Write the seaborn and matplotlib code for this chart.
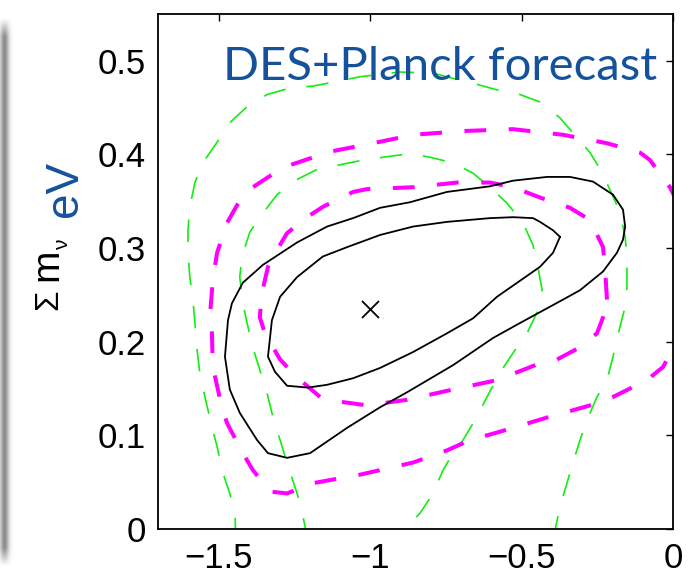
import numpy as np
import matplotlib
matplotlib.use("Agg")
import matplotlib.pyplot as plt
import seaborn as sns

# ---------------- data ----------------
black_inner_x = [-0.373, -0.396, -0.439, -0.462, -0.528, -0.604, -0.746, -0.858, -0.967, -1.076,
                 -1.156, -1.241, -1.297, -1.324, -1.337, -1.314, -1.274, -1.205, -1.142, -1.056,
                 -0.967, -0.858, -0.746, -0.660, -0.581, -0.439, -0.396]
black_inner_y = [0.312, 0.319, 0.328, 0.332, 0.333, 0.332, 0.328, 0.323, 0.314, 0.301,
                 0.291, 0.269, 0.248, 0.223, 0.184, 0.168, 0.153, 0.151, 0.154, 0.161,
                 0.172, 0.189, 0.209, 0.225, 0.248, 0.280, 0.295]

black_outer_x = [-0.198, -0.264, -0.340, -0.416, -0.528, -0.604, -0.746, -0.868, -0.967, -1.056,
                 -1.142, -1.241, -1.354, -1.420, -1.456, -1.469, -1.479, -1.463, -1.430, -1.373,
                 -1.337, -1.274, -1.198, -1.076, -0.967, -0.878, -0.726, -0.594, -0.505, -0.363,
                 -0.307, -0.231, -0.185, -0.165, -0.158, -0.165]
black_outer_y = [0.357, 0.371, 0.376, 0.376, 0.372, 0.366, 0.360, 0.349, 0.343, 0.332,
                 0.323, 0.306, 0.282, 0.263, 0.241, 0.223, 0.184, 0.149, 0.124, 0.095,
                 0.081, 0.076, 0.081, 0.108, 0.130, 0.146, 0.175, 0.204, 0.220, 0.245,
                 0.255, 0.275, 0.295, 0.309, 0.323, 0.341]

magenta_inner_x = [-0.218, -0.224, -0.231, -0.274, -0.340, -0.439, -0.528, -0.604, -0.713, -0.858,
                   -1.010, -1.056, -1.156, -1.208, -1.274, -1.307, -1.337, -1.357, -1.364, -1.347,
                   -1.297, -1.241, -1.165, -1.099, -1.010, -0.878, -0.726, -0.581, -0.439, -0.383,
                   -0.307, -0.251, -0.231]
magenta_inner_y = [0.245, 0.277, 0.301, 0.330, 0.343, 0.354, 0.365, 0.370, 0.370, 0.365,
                   0.363, 0.360, 0.344, 0.333, 0.316, 0.298, 0.280, 0.252, 0.226, 0.209,
                   0.181, 0.162, 0.141, 0.136, 0.132, 0.138, 0.149, 0.159, 0.177, 0.181,
                   0.194, 0.209, 0.226]

magenta_outer_x = [0.040, 0.020, -0.010, -0.076, -0.109, -0.218, -0.363, -0.528, -0.693, -0.858,
                   -0.990, -1.132, -1.288, -1.387, -1.430, -1.472, -1.505, -1.519, -1.529, -1.522,
                   -1.519, -1.489, -1.472, -1.420, -1.387, -1.330, -1.274, -1.188, -1.033, -0.858,
                   -0.746, -0.670, -0.581, -0.416, -0.274, -0.198, -0.086, -0.033, -0.003, 0.030,
                   0.045]
magenta_outer_y = [0.300, 0.345, 0.365, 0.394, 0.402, 0.412, 0.421, 0.427, 0.425, 0.421,
                   0.412, 0.403, 0.386, 0.365, 0.351, 0.327, 0.295, 0.266, 0.226, 0.209,
                   0.173, 0.130, 0.113, 0.081, 0.063, 0.040, 0.038, 0.049, 0.058, 0.071,
                   0.084, 0.095, 0.103, 0.119, 0.132, 0.141, 0.159, 0.173, 0.191, 0.240,
                   0.300]

green_outer_x = [-1.443, -1.446, -1.463, -1.486, -1.505, -1.522, -1.545, -1.562, -1.571, -1.578,
                 -1.585, -1.595, -1.601, -1.601, -1.595, -1.578, -1.552, -1.505, -1.463, -1.406,
                 -1.340, -1.264, -1.189, -1.109, -1.033, -0.957, -0.901, -0.792, -0.736, -0.660,
                 -0.581, -0.505, -0.439, -0.373, -0.330, -0.274, -0.234, -0.198, -0.175, -0.158,
                 -0.152, -0.152, -0.158, -0.175, -0.198, -0.218, -0.251, -0.284, -0.307, -0.330,
                 -0.350, -0.373, -0.396]
green_outer_y = [-0.012, 0.017, 0.038, 0.060, 0.088, 0.109, 0.141, 0.167, 0.191, 0.220,
                 0.245, 0.269, 0.295, 0.319, 0.344, 0.370, 0.391, 0.413, 0.434, 0.451,
                 0.464, 0.471, 0.473, 0.478, 0.483, 0.486, 0.488, 0.487, 0.482, 0.476,
                 0.469, 0.464, 0.456, 0.439, 0.423, 0.402, 0.381, 0.355, 0.338, 0.312,
                 0.291, 0.259, 0.237, 0.216, 0.184, 0.159, 0.141, 0.116, 0.095, 0.071,
                 0.049, 0.024, -0.012]

green_inner_x = [-1.205, -1.231, -1.248, -1.274, -1.297, -1.321, -1.340, -1.364, -1.387, -1.406,
                 -1.420, -1.430, -1.423, -1.397, -1.364, -1.307, -1.255, -1.175, -1.099, -1.023,
                 -0.957, -0.868, -0.802, -0.726, -0.660, -0.594, -0.548, -0.495, -0.462, -0.446,
                 -0.432, -0.449, -0.482, -0.528, -0.571, -0.614, -0.647, -0.693, -0.726, -0.759,
                 -0.792, -0.835, -0.918]
green_inner_y = [-0.012, 0.028, 0.045, 0.071, 0.095, 0.120, 0.145, 0.170, 0.194, 0.220,
                 0.241, 0.269, 0.291, 0.317, 0.333, 0.357, 0.371, 0.384, 0.389, 0.394,
                 0.397, 0.401, 0.397, 0.391, 0.380, 0.362, 0.348, 0.327, 0.303, 0.280,
                 0.255, 0.231, 0.209, 0.188, 0.167, 0.141, 0.120, 0.095, 0.081, 0.063,
                 0.038, 0.017, -0.012]

best_fit_x = [-1.0]
best_fit_y = [0.235]

x_ticks = [-1.5, -1.0, -0.5, 0.0]
x_tick_labels = ["\u22121.5", "\u22121", "\u22120.5", "0"]
y_ticks = [0.0, 0.1, 0.2, 0.3, 0.4, 0.5]
y_tick_labels = ["0", "0.1", "0.2", "0.3", "0.4", "0.5"]

title_text = "DES+Planck forecast"
blue = "#15529C"
green = "#11EE11"
magenta = "#FF00FF"

# ---------------- figure ----------------
sns.set_theme(style="white")
plt.rcParams['font.family'] = ['Liberation Sans', 'DejaVu Sans']

W, H = 692, 577
fig = plt.figure(figsize=(W / 100, H / 100), dpi=100)
fig.patch.set_facecolor("white")

# slide shadow on the left edge
sax = fig.add_axes([0, 10 / H, 16 / W, 550 / H])
xx = np.linspace(0, 16, 64)
yy = np.linspace(0, 550, 200)
prof_x = 1 - 0.45 * np.exp(-((xx - 4.5) / 4.5) ** 2)
prof_y = np.clip(np.minimum(yy, 550 - yy) / 18, 0, 1)
img = 1 - (1 - prof_x[None, :]) * prof_y[:, None]
sax.imshow(img, cmap="gray", vmin=0, vmax=1, aspect="auto", interpolation="bilinear")
sax.axis("off")

L, R, T, B = 158, 673, 14, 529
ax = fig.add_axes([L / W, 1 - B / H, (R - L) / W, (B - T) / H])


def draw(xs, ys, color, lw, dashes, closed, z):
    xs = list(xs)
    ys = list(ys)
    if closed:
        xs = xs + xs[:1]
        ys = ys + ys[:1]
    sns.lineplot(x=xs, y=ys, sort=False, estimator=None, color=color,
                 linewidth=lw, ax=ax, zorder=z)
    line = ax.lines[-1]
    if dashes is not None:
        line.set_dashes(dashes)
        line.set_dash_capstyle("butt")
    line.set_solid_joinstyle("round")


draw(green_outer_x, green_outer_y, green, 1.2, (13.5, 12.5), False, 1)
draw(green_inner_x, green_inner_y, green, 1.2, (13.5, 12.5), False, 1)
draw(magenta_outer_x, magenta_outer_y, magenta, 2.9, (5.4, 5.6), True, 2)
draw(magenta_inner_x, magenta_inner_y, magenta, 2.9, (5.4, 5.6), True, 2)
draw(black_outer_x, black_outer_y, "black", 1.3, None, True, 3)
draw(black_inner_x, black_inner_y, "black", 1.3, None, True, 3)

sns.scatterplot(x=best_fit_x, y=best_fit_y, marker="x", s=150, color="black",
                linewidth=1.3, ax=ax, zorder=4)

ax.set_xlim(-1.7, 0)
ax.set_ylim(0, 0.55)
ax.set_xticks(x_ticks)
ax.set_xticklabels(x_tick_labels)
ax.set_yticks(y_ticks)
ax.set_yticklabels(y_tick_labels)
ax.set_xlabel("")
ax.set_ylabel("")
for s in ax.spines.values():
    s.set_visible(True)
    s.set_color("black")
    s.set_linewidth(1.3)
ax.tick_params(direction="in", length=5, width=1, top=True, right=True,
               colors="black", labelsize=25)
ax.tick_params(axis="x", pad=9)
ax.tick_params(axis="y", pad=9)
ax.grid(False)

ax.text((657 - L) / (R - L), (B - 80) / (B - T), title_text, transform=ax.transAxes,
        ha="right", va="baseline", fontsize=34, family=["Lato", "DejaVu Sans"],
        color=blue, zorder=5)

# y-axis label: "Σ m_ν" in black, "eV" in blue
def ftxt(px, py, s, size, color):
    fig.text(px / W, 1 - py / H, s, rotation=90, rotation_mode="anchor",
             ha="left", va="baseline", fontsize=size, color=color)

ftxt(57, 310, "\u03a3", 24, "black")
ftxt(57, 281, "m", 28, "black")
ftxt(68, 250, "\u03bd", 15, "black")
ftxt(77, 217, "eV", 33, blue)

fig.savefig("out.png", dpi=100)
